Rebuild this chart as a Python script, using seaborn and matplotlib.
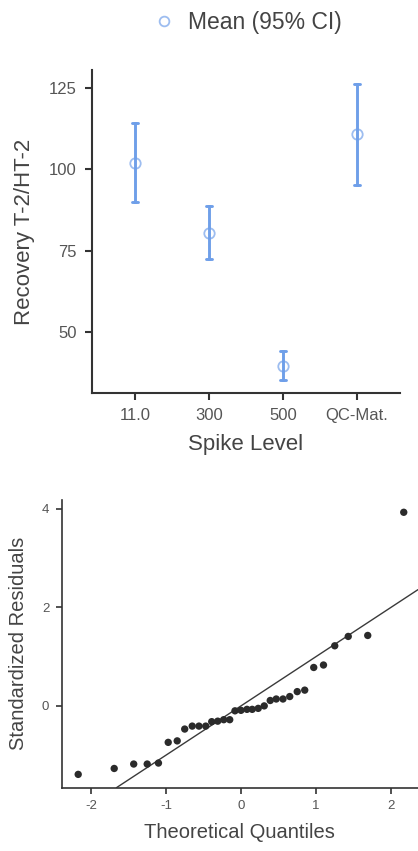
import matplotlib
matplotlib.use("Agg")
import matplotlib.pyplot as plt
from matplotlib.lines import Line2D
import numpy as np
import pandas as pd
import seaborn as sns

# Recovery by spike level: mean with 95% confidence interval
spike_levels = ["11.0", "300", "500", "QC-Mat."]
recovery_mean = [102.1, 80.5, 39.5, 110.8]
recovery_ci_low = [89.9, 72.4, 35.1, 95.2]
recovery_ci_high = [114.4, 88.7, 44.0, 126.3]

# Q-Q plot of standardized residuals
theoretical_quantiles = [
    -2.17, -1.69, -1.43, -1.25, -1.10, -0.97, -0.85, -0.75, -0.65, -0.56,
    -0.47, -0.39, -0.31, -0.23, -0.15, -0.08, 0.00, 0.08, 0.15, 0.23,
    0.31, 0.39, 0.47, 0.56, 0.65, 0.75, 0.85, 0.97, 1.10, 1.25,
    1.43, 1.69, 2.17,
]
standardized_residuals = [
    -1.39, -1.27, -1.18, -1.18, -1.16, -0.74, -0.71, -0.47, -0.41, -0.41,
    -0.41, -0.32, -0.31, -0.28, -0.28, -0.10, -0.09, -0.07, -0.07, -0.05,
    0.00, 0.11, 0.14, 0.14, 0.19, 0.29, 0.32, 0.78, 0.83, 1.22,
    1.41, 1.43, 3.93,
]

sns.set_theme(style="ticks")
plt.rcParams["font.family"] = ["Liberation Sans", "DejaVu Sans"]
plt.rcParams["axes.unicode_minus"] = False

TEXT = "#444444"
SPINE = "#333333"
BAR_BLUE = "#6f9fe9"
RING_BLUE = "#9dbdf0"

fig = plt.figure(figsize=(4.18, 8.51), dpi=100)

# ---- top panel: point estimates with CI bars ----
ax1 = fig.add_axes([0.2194, 0.5382, 0.957 - 0.2194, 0.9177 - 0.5382])

rows = []
for lvl, lo, mu, hi in zip(spike_levels, recovery_ci_low, recovery_mean, recovery_ci_high):
    for v in (lo, mu, hi):
        rows.append({"Spike Level": lvl, "Recovery": v})
df_rec = pd.DataFrame(rows)

sns.pointplot(
    data=df_rec, x="Spike Level", y="Recovery", order=spike_levels,
    estimator=np.median, errorbar=lambda v: (np.min(v), np.max(v)),
    color=BAR_BLUE, linestyle="none", marker="o", markersize=7.5,
    markerfacecolor="white", markeredgecolor=RING_BLUE, markeredgewidth=1.3,
    capsize=0.08, err_kws={"linewidth": 2.1, "color": BAR_BLUE},
    ax=ax1, zorder=3,
)
ax1.set_xlim(-0.585, 3.585)
ax1.set_ylim(31.1, 130.6)
ax1.set_yticks([50, 75, 100, 125])
ax1.set_xlabel("Spike Level", fontsize=16, color=TEXT, labelpad=8)
ax1.set_ylabel("Recovery T-2/HT-2", fontsize=16, color=TEXT, labelpad=10)
ax1.tick_params(axis="both", labelsize=12, colors=SPINE, labelcolor="#555555",
                length=5, width=1.5, pad=6)
for side in ("top", "right"):
    ax1.spines[side].set_visible(False)
for side in ("left", "bottom"):
    ax1.spines[side].set_color(SPINE)
    ax1.spines[side].set_linewidth(1.5)

legend_handle = Line2D([], [], linestyle="none", marker="o", markersize=7,
                       markerfacecolor="white", markeredgecolor=RING_BLUE,
                       markeredgewidth=1.3)
fig.legend(handles=[legend_handle], labels=["Mean (95% CI)"], loc="center",
           bbox_to_anchor=(0.595, 0.973), frameon=False, fontsize=16.5,
           labelcolor=TEXT, handlelength=0.8, handletextpad=0.65)

# ---- bottom panel: normal Q-Q plot ----
ax2 = fig.add_axes([0.1476, 0.0744, 1.0 - 0.1476, 0.4125 - 0.0744])
sns.scatterplot(x=theoretical_quantiles, y=standardized_residuals, color="#2b2b2b",
                s=28, edgecolor="none", ax=ax2, zorder=3)
ax2.axline((0, 0), slope=1, color="#3a3a3a", linewidth=1.0, zorder=2)
ax2.set_xlim(-2.39, 2.36)
ax2.set_ylim(-1.66, 4.18)
ax2.set_xticks([-2, -1, 0, 1, 2])
ax2.set_yticks([0, 2, 4])
ax2.set_xlabel("Theoretical Quantiles", fontsize=14.5, color=TEXT, labelpad=8)
ax2.set_ylabel("Standardized Residuals", fontsize=14.5, color=TEXT, labelpad=10)
ax2.tick_params(axis="both", labelsize=9.5, colors=SPINE, labelcolor="#555555",
                length=4, width=1.2, pad=5)
for side in ("top", "right"):
    ax2.spines[side].set_visible(False)
for side in ("left", "bottom"):
    ax2.spines[side].set_color(SPINE)
    ax2.spines[side].set_linewidth(1.2)

fig.savefig("out.png", dpi=100)
